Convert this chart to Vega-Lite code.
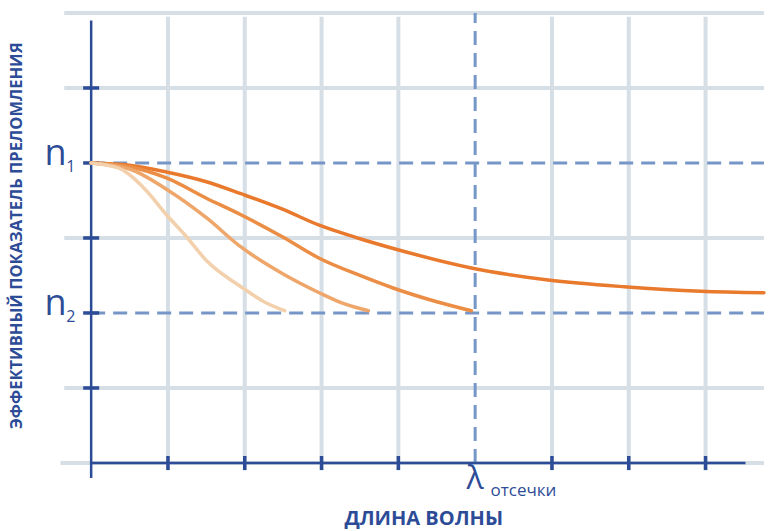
{
  "$schema": "https://vega.github.io/schema/vega-lite/v6.json",
  "width": 771,
  "height": 531,
  "padding": 0,
  "autosize": {"type": "fit", "contains": "padding"},
  "background": "white",
  "config": {"view": {"stroke": null}},
  "datasets": {
    "vgrid": [
      {"x": 1, "y": -0.1, "y2": 5.95}, {"x": 2, "y": -0.1, "y2": 5.95}, {"x": 3, "y": -0.1, "y2": 5.95},
      {"x": 4, "y": -0.1, "y2": 5.95}, {"x": 6, "y": -0.1, "y2": 5.95}, {"x": 7, "y": -0.1, "y2": 5.95},
      {"x": 8, "y": -0.1, "y2": 5.95}
    ],
    "hgrid": [
      {"y": 0, "x": -0.4, "x2": 8.76}, {"y": 1, "x": -0.35, "x2": 8.76}, {"y": 3, "x": -0.35, "x2": 8.76},
      {"y": 5, "x": -0.35, "x2": 8.76}, {"y": 6, "x": -0.35, "x2": 8.76}
    ],
    "hdash": [
      {"y": 4, "x": 0, "x2": 8.76}, {"y": 2, "x": 0, "x2": 8.76}
    ],
    "vdash": [
      {"x": 5, "y": 0, "y2": 6}
    ],
    "yaxis": [{"x": 0, "y": -0.2, "y2": 5.9}],
    "xaxis": [{"y": 0, "x": 0, "x2": 8.52}],
    "xticks": [{"x": 1, "y": 0}, {"x": 2, "y": 0}, {"x": 3, "y": 0}, {"x": 4, "y": 0}, {"x": 6, "y": 0}, {"x": 7, "y": 0}, {"x": 8, "y": 0}],
    "yticks": [{"x": 0, "y": 1}, {"x": 0, "y": 2}, {"x": 0, "y": 3}, {"x": 0, "y": 4}, {"x": 0, "y": 5}],
    "curves": [
      {"c": "a", "x": 0, "y": 4}, {"c": "a", "x": 0.5, "y": 3.97}, {"c": "a", "x": 0.98, "y": 3.88}, {"c": "a", "x": 1.5, "y": 3.75},
      {"c": "a", "x": 1.95, "y": 3.59}, {"c": "a", "x": 2.5, "y": 3.38}, {"c": "a", "x": 2.97, "y": 3.17}, {"c": "a", "x": 3.5, "y": 2.99},
      {"c": "a", "x": 3.97, "y": 2.85}, {"c": "a", "x": 4.95, "y": 2.6}, {"c": "a", "x": 5.95, "y": 2.44}, {"c": "a", "x": 6.94, "y": 2.35},
      {"c": "a", "x": 7.94, "y": 2.29}, {"c": "a", "x": 8.76, "y": 2.27},
      {"c": "b", "x": 0, "y": 4}, {"c": "b", "x": 0.5, "y": 3.95}, {"c": "b", "x": 0.98, "y": 3.8}, {"c": "b", "x": 1.5, "y": 3.53},
      {"c": "b", "x": 1.95, "y": 3.31}, {"c": "b", "x": 2.5, "y": 3.01}, {"c": "b", "x": 2.97, "y": 2.73}, {"c": "b", "x": 3.5, "y": 2.5},
      {"c": "b", "x": 3.94, "y": 2.33}, {"c": "b", "x": 4.5, "y": 2.15}, {"c": "b", "x": 4.95, "y": 2.03},
      {"c": "c", "x": 0, "y": 4}, {"c": "c", "x": 0.5, "y": 3.92}, {"c": "c", "x": 0.98, "y": 3.65}, {"c": "c", "x": 1.5, "y": 3.27},
      {"c": "c", "x": 1.95, "y": 2.88}, {"c": "c", "x": 2.5, "y": 2.52}, {"c": "c", "x": 2.97, "y": 2.27}, {"c": "c", "x": 3.3, "y": 2.12},
      {"c": "c", "x": 3.61, "y": 2.03},
      {"c": "d", "x": 0, "y": 4}, {"c": "d", "x": 0.36, "y": 3.93}, {"c": "d", "x": 0.71, "y": 3.64}, {"c": "d", "x": 0.98, "y": 3.31},
      {"c": "d", "x": 1.23, "y": 3.03}, {"c": "d", "x": 1.5, "y": 2.7}, {"c": "d", "x": 1.95, "y": 2.35}, {"c": "d", "x": 2.25, "y": 2.15},
      {"c": "d", "x": 2.52, "y": 2.03}
    ],
    "ytitle": [{"x": -0.96, "y": 3.03, "text": "ЭФФЕКТИВНЫЙ ПОКАЗАТЕЛЬ ПРЕЛОМЛЕНИЯ"}],
    "xtitle": [{"x": 4.33, "y": -0.75, "text": "ДЛИНА ВОЛНЫ"}],
    "nlabels": [{"x": -0.32, "y": 4.0, "text": "n"}, {"x": -0.32, "y": 2.0, "text": "n"}],
    "nsubs": [{"x": -0.325, "y": 3.94, "text": "1"}, {"x": -0.325, "y": 1.94, "text": "2"}],
    "lambda": [{"x": 5.0, "y": -0.22, "text": "λ"}],
    "lsub": [{"x": 5.2, "y": -0.38, "text": "отсечки"}]
  },
  "encoding": {
    "x": {"field": "x", "type": "quantitative", "scale": {"domain": [-1.187, 8.761], "nice": false, "zero": false}, "axis": null},
    "y": {"field": "y", "type": "quantitative", "scale": {"domain": [-0.907, 6.173], "nice": false, "zero": false}, "axis": null}
  },
  "layer": [
    {"data": {"name": "vgrid"}, "mark": {"type": "rule", "color": "#D6DFE6", "strokeWidth": 4}, "encoding": {"y2": {"field": "y2"}}},
    {"data": {"name": "hgrid"}, "mark": {"type": "rule", "color": "#D6DFE6", "strokeWidth": 4}, "encoding": {"x2": {"field": "x2"}}},
    {"data": {"name": "hdash"}, "mark": {"type": "rule", "color": "#7596C6", "strokeWidth": 3, "strokeDash": [14, 8]}, "encoding": {"x2": {"field": "x2"}}},
    {"data": {"name": "vdash"}, "mark": {"type": "rule", "color": "#7596C6", "strokeWidth": 3, "strokeDash": [14, 8]}, "encoding": {"y2": {"field": "y2"}}},
    {"data": {"name": "yaxis"}, "mark": {"type": "rule", "color": "#2D4C97", "strokeWidth": 2.5}, "encoding": {"y2": {"field": "y2"}}},
    {"data": {"name": "xaxis"}, "mark": {"type": "rule", "color": "#2D4C97", "strokeWidth": 2.5}, "encoding": {"x2": {"field": "x2"}}},
    {"data": {"name": "xticks"}, "mark": {"type": "tick", "orient": "vertical", "color": "#2D4C97", "size": 14, "thickness": 3.5, "opacity": 1}},
    {"data": {"name": "yticks"}, "mark": {"type": "tick", "orient": "horizontal", "color": "#2D4C97", "size": 16, "thickness": 3.5, "opacity": 1}},
    {"data": {"name": "curves"}, "mark": {"type": "line", "strokeWidth": 3.5, "interpolate": "monotone", "strokeCap": "round"},
     "encoding": {"color": {"field": "c", "type": "nominal", "scale": {"domain": ["d", "c", "b", "a"], "range": ["#F3D0AC", "#EEA66A", "#EB8D44", "#E8792D"]}, "legend": null},
                  "order": {"field": "x", "type": "quantitative"}}},
    {"data": {"name": "ytitle"}, "mark": {"type": "text", "angle": 270, "font": "Open Sans", "fontWeight": "bold", "fontSize": 16.5, "color": "#2D4C97", "align": "center", "baseline": "middle"}, "encoding": {"text": {"field": "text"}}},
    {"data": {"name": "xtitle"}, "mark": {"type": "text", "font": "Open Sans", "fontWeight": "bold", "fontSize": 20, "color": "#2D4C97", "align": "center", "baseline": "middle"}, "encoding": {"text": {"field": "text"}}},
    {"data": {"name": "nlabels"}, "mark": {"type": "text", "font": "Open Sans", "fontSize": 36, "color": "#2D4C97", "align": "right", "baseline": "alphabetic", "dy": 2}, "encoding": {"text": {"field": "text"}}},
    {"data": {"name": "nsubs"}, "mark": {"type": "text", "font": "Open Sans", "fontSize": 16, "color": "#2D4C97", "align": "left", "baseline": "middle"}, "encoding": {"text": {"field": "text"}}},
    {"data": {"name": "lambda"}, "mark": {"type": "text", "font": "Open Sans", "fontSize": 32, "color": "#2D4C97", "align": "center", "baseline": "middle"}, "encoding": {"text": {"field": "text"}}},
    {"data": {"name": "lsub"}, "mark": {"type": "text", "font": "Open Sans", "fontSize": 17, "color": "#2D4C97", "align": "left", "baseline": "middle"}, "encoding": {"text": {"field": "text"}}}
  ]
}
